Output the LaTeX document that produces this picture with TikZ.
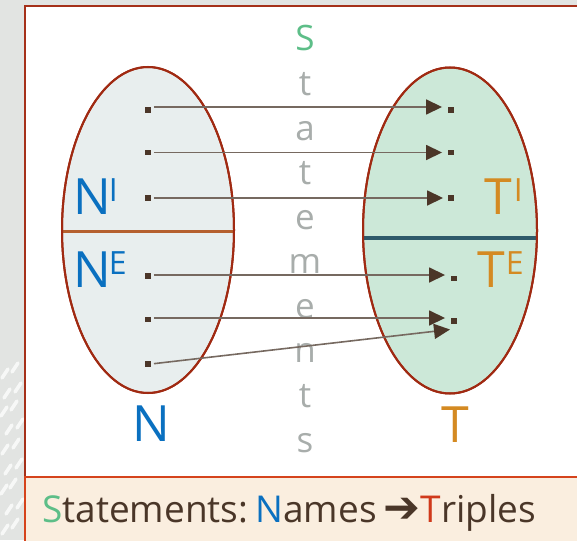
\documentclass[tikz,border=0pt]{standalone}
\usepackage{fontspec}
\setmainfont{Open Sans}
\newfontfamily\symfont{DejaVu Sans}
\usetikzlibrary{arrows.meta,shapes.geometric}

\definecolor{stripgray}{HTML}{E2E4E2}
\definecolor{framered}{HTML}{A53019}
\definecolor{boxfill}{HTML}{FAEEDF}
\definecolor{boxred}{HTML}{D5431C}
\definecolor{rimred}{HTML}{A02A12}
\definecolor{leftfill}{HTML}{E8EEEE}
\definecolor{rightfill}{HTML}{CCE8D8}
\definecolor{leftbar}{HTML}{B5602E}
\definecolor{rightbar}{HTML}{2E5A6A}
\definecolor{dotbrown}{HTML}{4B3628}
\definecolor{linebrown}{HTML}{766960}
\definecolor{lettergray}{HTML}{A8ADAB}
\definecolor{sgreen}{HTML}{5DBE88}
\definecolor{nblue}{HTML}{0A70C0}
\definecolor{torange}{HTML}{D48A22}
\definecolor{tred}{HTML}{D0391A}
\definecolor{textbrown}{HTML}{4A3628}

\newcommand{\bigsz}{\fontsize{50}{50}\selectfont}
\newcommand{\supsz}{\fontsize{32}{32}\selectfont}

\tikzset{
  setshape/.style={ellipse, draw=rimred, line width=2pt, minimum width=172pt, minimum height=326pt, inner sep=0},
  dotsq/.style={rectangle, fill=dotbrown, minimum size=5.5pt, inner sep=0},
  maparrow/.style={draw=linebrown, line width=1.6pt, shorten <=3pt, shorten >=6pt,
    -{Triangle[length=16pt,width=15pt,color=dotbrown]}},
  vlet/.style={anchor=base, inner sep=0, text=lettergray, font=\fontsize{35}{35}\selectfont},
  setlabel/.style={anchor=base west, inner sep=0},
  setname/.style={anchor=base, inner sep=0, font=\bigsz},
}

\begin{document}
\begin{tikzpicture}[x=1pt,y=-1pt]
\useasboundingbox (0,0) rectangle (577,540);

% page background and the textured strip on the left
\fill[stripgray] (0,0) rectangle (577,540);
\foreach \a/\b in {2/378,12/372,4/398,15/392,1/416,11/410,6/434,17/428,2/454,13/448,5/474,16/468,1/494,10/488,6/514,17/508,2/534,12/528}
  \draw[white, opacity=0.75, line width=3.5pt, line cap=round] (\a,\b) -- ++(6,-9);

% white panel with its frame
\fill[white] (25,6) rectangle (585,477);
\draw[framered, line width=1.5pt] (585,6) -- (25,6) -- (25,477);

% caption band
\fill[boxfill] (25,477) rectangle (585,545);
\draw[boxred, line width=2pt] (25,545) -- (25,477) -- (585,477);

% the two sets
\node[setshape, fill=leftfill] (N) at (148,230) {};
\node[setshape, fill=rightfill, minimum width=174pt] (T) at (450,230.5) {};
\draw[leftbar, line width=3pt] (62.5,231) -- (233.5,231);
\draw[rightbar, line width=3.5pt] (363.5,238) -- (536.5,238);
\node[setshape] at (148,230) {};
\node[setshape, minimum width=174pt] at (450,230.5) {};

% subset labels
\node[setlabel, text=nblue] (NI) at (73,214) {\bigsz N\kern-2pt\raisebox{13pt}{\supsz I}};
\node[setlabel, text=nblue] (NE) at (73,287) {\bigsz N\kern-2pt\raisebox{13pt}{\supsz E}};
\node[setlabel, text=torange] (TI) at (484,214) {\bigsz T\kern2pt\raisebox{13pt}{\supsz I}};
\node[setlabel, text=torange] (TE) at (477,287) {\bigsz T\kern1pt\raisebox{13pt}{\supsz E}};

% set names
\node[setname, text=nblue] (Nname) at (151,441) {N};
\node[setname, text=torange] (Tname) at (455.5,442) {T};

% the word running down the middle
\node[vlet, text=sgreen] (v0) at (305,51) {S};
\node[vlet] (v1) at (305,95.5) {t};
\node[vlet] (v2) at (305,140) {a};
\node[vlet] (v3) at (305,184.5) {t};
\node[vlet] (v4) at (305,229) {e};
\node[vlet] (v5) at (305,273.5) {m};
\node[vlet] (v6) at (305,318) {e};
\node[vlet] (v7) at (305,362.5) {n};
\node[vlet] (v8) at (305,407) {t};
\node[vlet] (v9) at (305,452) {s};

% elements
\node[dotsq] (l1) at (148,110) {};
\node[dotsq] (l2) at (148,152.5) {};
\node[dotsq] (l3) at (148,198) {};
\node[dotsq] (l4) at (148,276) {};
\node[dotsq] (l5) at (148,319.5) {};
\node[dotsq] (l6) at (148,364) {};
\node[dotsq] (r1) at (451,110) {};
\node[dotsq] (r2) at (451,152.5) {};
\node[dotsq] (r3) at (451,198) {};
\node[dotsq] (r4) at (454,278.5) {};
\node[dotsq] (r5) at (454,321) {};
\coordinate (r6) at (450,329.5);

% statements mapping names to triples
\draw[maparrow] ([yshift=3pt]l1.east) -- ([yshift=3pt]r1.west);
\draw[maparrow] (l2.east) -- (r2.west);
\draw[maparrow] (l3.east) -- ([xshift=1pt]r3.west);
\draw[maparrow] ([yshift=1pt]l4.east) -- ([yshift=3.5pt]r4.west);
\draw[maparrow] ([yshift=1.5pt]l5.east) -- ([yshift=3pt]r5.west);
\draw[maparrow, shorten >=0pt] (l6.east) -- (r6);

% caption
\node[anchor=base west, inner sep=0, text=textbrown, font=\fontsize{37}{37}\selectfont] (cap) at (42,522)
  {\textcolor{sgreen}{S}tatements:\hspace{7pt}\textcolor{nblue}{N}ames\hspace{7pt}{\symfont\bfseries\fontsize{44}{37}\selectfont ➔}\textcolor{tred}{T}riples};
\end{tikzpicture}
\end{document}
